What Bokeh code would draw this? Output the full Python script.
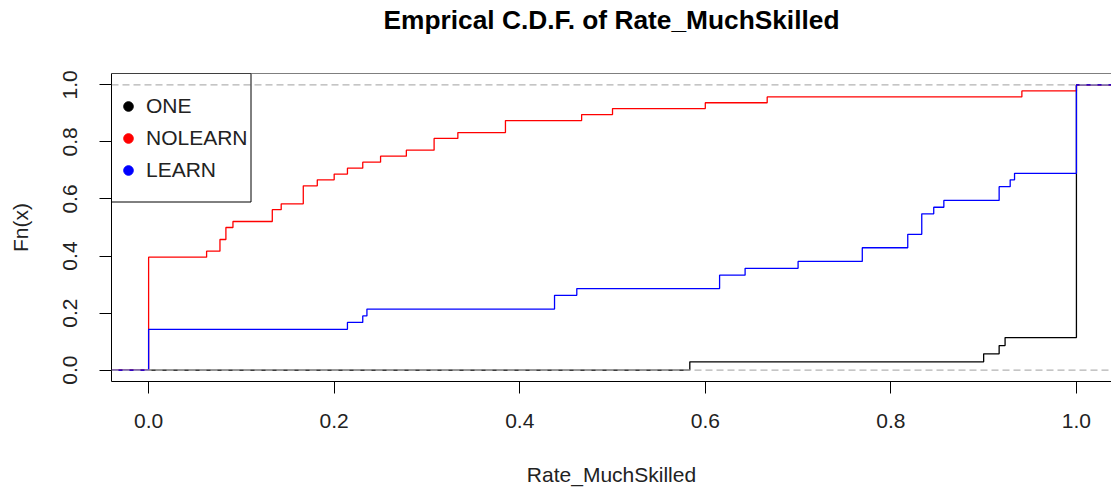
from bokeh.plotting import figure
from bokeh.models import (FixedTicker, NumeralTickFormatter, Span, Legend, LegendItem,
                          Range1d, BoxAnnotation, Title)
from bokeh.embed import file_html
from bokeh.resources import INLINE

# ---- data (step positions and cumulative fractions) ----
one_x = [0.5833, 0.9, 0.9167, 0.9231, 1.0]
one_F = [0.029, 0.057, 0.086, 0.114, 1.0]

nolearn_x = [0.0, 0.0625, 0.0769, 0.0833, 0.0909, 0.1333, 0.1429, 0.1667, 0.1818, 0.2,
             0.2143, 0.2308, 0.25, 0.2778, 0.3077, 0.3333, 0.3846, 0.4667, 0.5, 0.6,
             0.6667, 0.9412, 1.0]
nolearn_F = [0.396, 0.417, 0.458, 0.5, 0.521, 0.5625, 0.583, 0.646, 0.667, 0.6875,
             0.708, 0.729, 0.75, 0.771, 0.8125, 0.833, 0.875, 0.896, 0.917, 0.9375,
             0.958, 0.979, 1.0]

learn_x = [0.0, 0.2143, 0.2308, 0.2353, 0.4375, 0.4615, 0.6154, 0.6429, 0.7, 0.7692,
           0.8182, 0.8333, 0.8462, 0.8571, 0.9167, 0.9286, 0.9333, 1.0]
learn_F = [0.143, 0.167, 0.190, 0.214, 0.262, 0.286, 0.333, 0.357, 0.381, 0.429,
           0.476, 0.548, 0.571, 0.595, 0.643, 0.667, 0.690, 1.0]

series_names = ["ONE", "NOLEARN", "LEARN"]
series_colors = ["black", "#FF0000", "#0000FF"]
x_ticks = [0.0, 0.2, 0.4, 0.6, 0.8, 1.0]
y_ticks = [0.0, 0.2, 0.4, 0.6, 0.8, 1.0]
title_text = "Emprical C.D.F. of Rate_MuchSkilled"

X_START, X_END = -0.04, 1.0378
Y_START, Y_END = -0.04, 1.04
FONT = "Liberation Sans"
FRAME_H = 489 - 73 - 108

p = figure(width=1111, height=489, output_backend="svg", toolbar_location=None,
           title=None,
           x_range=Range1d(X_START, X_END), y_range=Range1d(Y_START, Y_END),
           min_border_left=111, min_border_right=0, min_border_top=73, min_border_bottom=108)
p.outline_line_color = None
p.background_fill_color = "white"
p.border_fill_color = "white"
p.xgrid.visible = False
p.ygrid.visible = False

# empty spacer next to the frame, then the real title above it
p.add_layout(Title(text=" ", text_font=FONT, text_font_size="10px", standoff=24), "above")
p.add_layout(Title(text=title_text, text_font=FONT, text_font_size="26.3px",
                   text_font_style="bold", align="center", vertical_align="top",
                   standoff=0, text_color="black"), "above")

for ax, ticks, lab in ((p.xaxis[0], x_ticks, "Rate_MuchSkilled"), (p.yaxis[0], y_ticks, "Fn(x)")):
    ax.ticker = FixedTicker(ticks=ticks)
    ax.formatter = NumeralTickFormatter(format="0.0")
    ax.axis_label = lab
    ax.axis_label_text_font = FONT
    ax.axis_label_text_font_size = "21px"
    ax.axis_label_text_font_style = "normal"
    ax.axis_label_text_color = "#222222"
    ax.major_label_text_font = FONT
    ax.major_label_text_font_size = "21px"
    ax.major_label_text_color = "#222222"
    ax.major_tick_out = 12
    ax.major_tick_in = 0
    ax.minor_tick_out = 0
    ax.minor_tick_in = 0
    ax.axis_line_color = "black"
    ax.major_tick_line_color = "black"

p.xaxis[0].major_label_standoff = 20
p.xaxis[0].axis_label_standoff = 32
p.yaxis[0].major_label_orientation = "vertical"
p.yaxis[0].major_label_standoff = 22
p.yaxis[0].axis_label_standoff = 29

# top border of the box
p.add_layout(Span(location=Y_END, dimension="width", line_color="black", line_width=1))

def step_line(xs, Fs, color):
    sx = [X_START - 1.0] + list(xs) + [X_END + 1.0]
    sy = [0.0] + list(Fs) + [Fs[-1]]
    p.step(sx, sy, mode="after", line_color=color, line_width=1.3)

step_line(one_x, one_F, series_colors[0])
step_line(nolearn_x, nolearn_F, series_colors[1])
step_line(learn_x, learn_F, series_colors[2])

for loc in (0.0, 1.0):
    p.add_layout(Span(location=loc, dimension="width", line_color="#B3B3B3",
                      line_width=1.2, line_dash="7 4"))

items = []
nan = float("nan")
for name, col in zip(series_names, series_colors):
    r = p.scatter(x=[nan], y=[nan], size=9, fill_color=col, line_color=col)
    items.append(LegendItem(label=name, renderers=[r]))

PAD, ROW = 5, 32
LEG_H = 2 * PAD + len(series_names) * ROW
leg = Legend(items=items, location=(5, FRAME_H - 6.5 - LEG_H), margin=0, padding=PAD,
             glyph_width=24, glyph_height=ROW, label_height=ROW, spacing=0,
             label_standoff=6, label_text_font=FONT, label_text_font_size="21px",
             label_text_color="#222222",
             border_line_color=None, background_fill_alpha=0)
p.add_layout(leg, "center")

# legend frame
p.add_layout(BoxAnnotation(left=0, right=139.5, top=FRAME_H, bottom=FRAME_H - 128.5,
                           left_units="screen", right_units="screen",
                           top_units="screen", bottom_units="screen",
                           fill_alpha=0, line_color="black", line_width=1, line_alpha=1))

open("out.html", "w").write(file_html(p, INLINE))
